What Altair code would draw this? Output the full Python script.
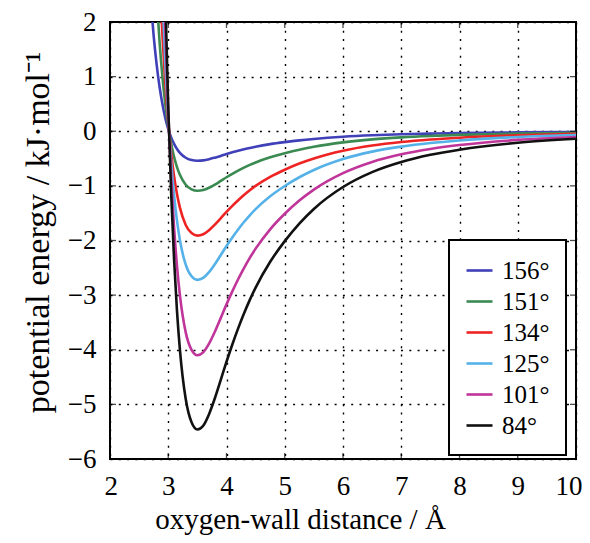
import altair as alt
import pandas as pd

distance = [2.70, 2.75, 2.80, 2.85, 2.90, 2.95, 3.00, 3.05, 3.10, 3.15, 3.20, 3.30, 3.40,
            3.50, 3.60, 3.70, 3.80, 3.90, 4.00, 4.10, 4.20, 4.30, 4.40, 4.50, 4.75, 5.00,
            5.25, 5.50, 6.00, 6.50, 7.00, 7.50, 8.00, 9.00, 10.00]

e156 = [2.39, 1.74, 1.23, 0.82, 0.50, 0.24, 0.04, -0.112, -0.232, -0.325, -0.395, -0.485, -0.527,
        -0.540, -0.533, -0.512, -0.483, -0.451, -0.417, -0.386, -0.357, -0.330, -0.305, -0.283,
        -0.236, -0.199, -0.167, -0.141, -0.101, -0.074, -0.056, -0.043, -0.033, -0.021, -0.014]
e151 = [4.83, 3.52, 2.48, 1.65, 1.00, 0.49, 0.09, -0.226, -0.469, -0.656, -0.798, -0.979, -1.064,
        -1.090, -1.076, -1.034, -0.976, -0.910, -0.842, -0.779, -0.720, -0.666, -0.616, -0.571,
        -0.477, -0.402, -0.337, -0.284, -0.204, -0.149, -0.112, -0.086, -0.067, -0.042, -0.028]
e134 = [8.46, 6.16, 4.34, 2.90, 1.76, 0.86, 0.16, -0.395, -0.821, -1.150, -1.398, -1.715, -1.864,
        -1.910, -1.886, -1.812, -1.710, -1.594, -1.476, -1.366, -1.263, -1.167, -1.080, -1.001,
        -0.836, -0.704, -0.591, -0.498, -0.357, -0.262, -0.197, -0.151, -0.118, -0.074, -0.048]
e125 = [12.05, 8.78, 6.18, 4.13, 2.51, 1.23, 0.22, -0.563, -1.170, -1.637, -1.991, -2.443, -2.655,
        -2.720, -2.685, -2.580, -2.435, -2.270, -2.102, -1.945, -1.798, -1.662, -1.538, -1.426,
        -1.191, -1.002, -0.842, -0.709, -0.509, -0.373, -0.281, -0.215, -0.168, -0.105, -0.069]
e101 = [18.2, 13.2, 9.32, 6.22, 3.78, 1.85, 0.34, -0.849, -1.763, -2.468, -3.001, -3.682, -4.002,
        -4.100, -4.048, -3.889, -3.670, -3.421, -3.169, -2.932, -2.710, -2.506, -2.318, -2.149,
        -1.795, -1.511, -1.269, -1.068, -0.767, -0.562, -0.423, -0.324, -0.253, -0.158, -0.104]
e84 = [24.2, 17.6, 12.4, 8.29, 5.03, 2.46, 0.45, -1.130, -2.348, -3.287, -3.997, -4.903, -5.329,
       -5.460, -5.391, -5.179, -4.888, -4.556, -4.220, -3.904, -3.609, -3.337, -3.087, -2.862,
       -2.390, -2.012, -1.690, -1.422, -1.021, -0.748, -0.563, -0.432, -0.337, -0.210, -0.138]

angles = ["156°", "151°", "134°", "125°", "101°", "84°"]
colors = ["#4040b8", "#3a8a52", "#ee2424", "#55b2e8", "#c0359a", "#111111"]
series = [e156, e151, e134, e125, e101, e84]

x_ticks = [2, 3, 4, 5, 6, 7, 8, 9, 10]
y_ticks = [2, 1, 0, -1, -2, -3, -4, -5, -6]
x_inner = [3, 4, 5, 6, 7, 8, 9]
y_inner = [1, 0, -1, -2, -3, -4, -5]

rows = []
for name, vals in zip(angles, series):
    for d, v in zip(distance, vals):
        rows.append({"distance": d, "energy": v, "angle": name})
df = pd.DataFrame(rows)

W, H = 466, 437
FONT = "Liberation Serif"
LFS = 27

xscale = alt.Scale(domain=[2, 10], nice=False, zero=False)
yscale = alt.Scale(domain=[-6, 2], nice=False, zero=False)

axis_common = dict(grid=True, ticks=False, tickSize=0, domain=False, labelPadding=14,
                   labelFont=FONT, titleFont=FONT, labelFontSize=LFS,
                   labelColor="black", titleColor="black", titleFontWeight="normal",
                   labelOverlap=False, format="d", gridColor="black",
                   gridDash=[2, 6.3], gridWidth=1.4, gridOpacity=1)

x_axis = alt.Axis(values=x_ticks, title="oxygen-wall distance / Å", titlePadding=6,
                  titleFontSize=29, titleX=190, titleAlign="center",
                  labelFlush=1, labelFlushOffset=6, **axis_common)
y_axis = alt.Axis(values=y_ticks, title="potential energy / kJ·mol⁻¹", titlePadding=12,
                  titleFontSize=34, titleY=210, labelFlush=False, **axis_common)

lines = alt.Chart(df).mark_line(clip=True, interpolate="monotone", strokeWidth=2.6).encode(
    x=alt.X("distance:Q", scale=xscale, axis=x_axis),
    y=alt.Y("energy:Q", scale=yscale, axis=y_axis),
    color=alt.Color("angle:N", sort=angles,
                    scale=alt.Scale(domain=angles, range=colors),
                    legend=alt.Legend(title=None, orient="none", legendX=339, legendY=218,
                                      symbolType="stroke", symbolSize=676,
                                      symbolStrokeWidth=2.6, labelFontSize=25,
                                      labelFont=FONT, labelColor="black", padding=16,
                                      rowPadding=3, labelOffset=8, fillColor="white",
                                      strokeColor="black")),
)

xt = pd.DataFrame({"distance": x_inner})
yt = pd.DataFrame({"energy": y_inner})
tick_style = dict(size=6, thickness=1.3, color="black")
tick_bottom = alt.Chart(xt).mark_tick(orient="vertical", **tick_style).encode(
    x=alt.X("distance:Q", scale=xscale, axis=x_axis), y=alt.value(H - 3))
tick_top = alt.Chart(xt).mark_tick(orient="vertical", **tick_style).encode(
    x=alt.X("distance:Q", scale=xscale, axis=x_axis), y=alt.value(3))
tick_left = alt.Chart(yt).mark_tick(orient="horizontal", **tick_style).encode(
    y=alt.Y("energy:Q", scale=yscale, axis=y_axis), x=alt.value(3))
tick_right = alt.Chart(yt).mark_tick(orient="horizontal", **tick_style).encode(
    y=alt.Y("energy:Q", scale=yscale, axis=y_axis), x=alt.value(W - 3))

chart = alt.layer(lines, tick_bottom, tick_top, tick_left, tick_right).properties(
    width=W, height=H,
    autosize=alt.AutoSizeParams(type="none"),
    padding={"left": 102, "top": 14, "right": 6, "bottom": 84},
).configure(
    font=FONT
).configure_view(
    stroke="black", strokeWidth=2
).configure_legend(
    strokeWidth=2
)

chart.save("out.html", embed_options={"renderer": "svg", "actions": False})
